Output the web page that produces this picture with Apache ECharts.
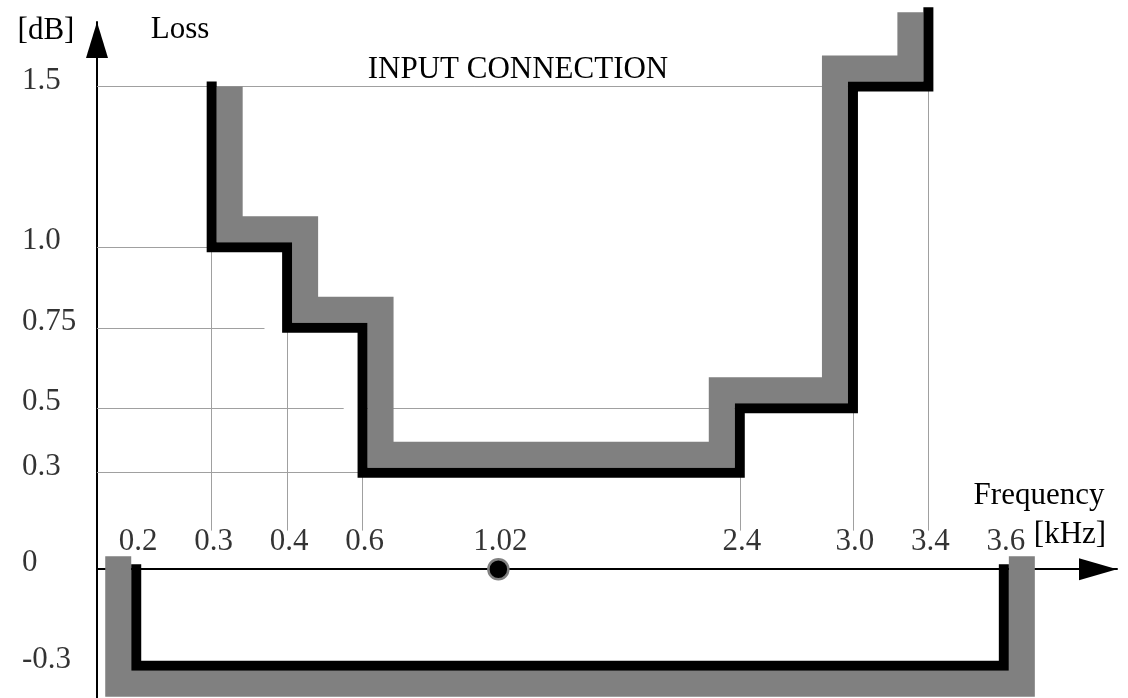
<!DOCTYPE html>
<html><head><meta charset="utf-8">
<script src="https://cdn.jsdelivr.net/npm/echarts@6/dist/echarts.min.js"></script>
<style>html,body{margin:0;padding:0;background:#fff}#chart{width:1128px;height:698px}</style>
</head><body><div id="chart"></div>
<script>
// ---- tick labels / axis definition (schematic, not-to-scale frequency axis) ----
const xTickLabels = ['0.2','0.3','0.4','0.6','1.02','2.4','3.0','3.4','3.6'];
const xTickFreq   = [0.2, 0.3, 0.4, 0.6, 1.02, 2.4, 3.0, 3.4, 3.6];      // kHz
const xTickSpacing = [0, 1, 2, 3, 4.8, 8, 9.5, 10.5, 11.5];             // schematic axis units
const yTickValues = [-0.3, 0, 0.3, 0.5, 0.75, 1.0, 1.5];
const yTickLabels = ['-0.3','0','0.3','0.5','0.75','1.0','1.5'];

// ---- upper loss mask (kHz, dB) ----
const upperMaskFreq = [0.3, 0.3, 0.4, 0.4, 0.6, 0.6, 2.4, 2.4, 3.0, 3.0, 3.4, 3.4];
const upperMaskLoss = [1.5, 1.0, 1.0, 0.75, 0.75, 0.3, 0.3, 0.5, 0.5, 1.5, 1.5, 1.73];
// ---- lower loss mask ----
const lowerMaskFreq = [0.2, 0.2, 3.6, 3.6];
const lowerMaskLoss = [0, -0.3, -0.3, 0];
// ---- reference point ----
const refFreq = [1.02];
const refLoss = [0];

// ---- thin leader lines ----
const hLeaderLoss = [1.5, 1.0, 0.75, 0.5, 0.3, 0.5];
const hLeaderFrom = [null, null, null, null, null, 0.6];   // null = from the loss axis
const hLeaderTo   = [3.0, 0.3, 0.37, 0.55, 0.6, 2.4];
const vLeaderFreq = [0.3, 0.4, 0.6, 2.4, 3.0, 3.4];
const vLeaderLoss = [1.0, 0.75, 0.3, 0.3, 0.5, 1.5];
const leaderBottom = 0.12;

const X_MIN = -0.52, X_MAX = 13.0;
const FONT = '"Liberation Serif", "Times New Roman", serif';
const FS = 31;

function fx(f) {
  const n = xTickFreq.length;
  for (let i = 0; i < n - 1; i++) {
    if (f <= xTickFreq[i + 1] || i === n - 2) {
      const t = (f - xTickFreq[i]) / (xTickFreq[i + 1] - xTickFreq[i]);
      return xTickSpacing[i] + t * (xTickSpacing[i + 1] - xTickSpacing[i]);
    }
  }
}
function offsetPolyline(pts, d) {
  const n = pts.length, nm = [];
  for (let i = 0; i < n - 1; i++) {
    const dx = pts[i + 1][0] - pts[i][0], dy = pts[i + 1][1] - pts[i][1];
    const L = Math.hypot(dx, dy) || 1;
    nm.push([dy / L, -dx / L]);
  }
  return pts.map((p, i) => {
    let nx, ny;
    if (i === 0) { nx = nm[0][0]; ny = nm[0][1]; }
    else if (i === n - 1) { nx = nm[n - 2][0]; ny = nm[n - 2][1]; }
    else {
      const a = nm[i - 1], b = nm[i];
      const k = 1 / (1 + a[0] * b[0] + a[1] * b[1]);
      nx = (a[0] + b[0]) * k; ny = (a[1] + b[1]) * k;
    }
    return [p[0] + d * nx, p[1] + d * ny];
  });
}

const masks = [
  { freq: upperMaskFreq, loss: upperMaskLoss, side: 1, cap: 'butt' },
  { freq: lowerMaskFreq, loss: lowerMaskLoss, side: -1, cap: 'square' }
];

const leaderData = [];
hLeaderLoss.forEach((v, i) => {
  const x1 = hLeaderFrom[i] == null ? X_MIN : fx(hLeaderFrom[i]);
  leaderData.push({ coords: [[x1, v], [fx(hLeaderTo[i]), v]] });
});
vLeaderFreq.forEach((f, i) => {
  leaderData.push({ coords: [[fx(f), vLeaderLoss[i]], [fx(f), leaderBottom]] });
});

const chart = echarts.init(document.getElementById('chart'), null, { renderer: 'canvas' });
const txt = (x, y, text) => ({
  type: 'text', x: x, y: y, z: 10,
  style: { text: text, font: FS + 'px ' + FONT, fill: '#000', align: 'center', verticalAlign: 'middle' }
});
const labelText = { color: '#000', fontFamily: FONT, fontSize: FS };

chart.setOption({
  animation: false,
  backgroundColor: '#fff',
  grid: { left: 97, top: 22, width: 1020, height: 677, containLabel: false },
  xAxis: {
    type: 'value', min: X_MIN, max: X_MAX,
    axisLine: { show: true, onZero: true, symbol: ['none', 'triangle'], symbolSize: [22, 38], symbolOffset: [0, -19],
      lineStyle: { color: '#000', width: 2 } },
    axisTick: { show: false }, splitLine: { show: false }, axisLabel: { show: false }
  },
  yAxis: {
    type: 'value', min: -0.4, max: 1.7,
    axisLine: { show: true, onZero: false, symbol: ['none', 'triangle'], symbolSize: [22, 36], symbolOffset: [0, -18],
      lineStyle: { color: '#000', width: 2 } },
    axisTick: { show: false }, splitLine: { show: false }, axisLabel: { show: false }
  },
  graphic: [
    txt(46, 31, '[dB]'),
    txt(180, 30, 'Loss'),
    txt(518, 70, 'INPUT CONNECTION'),
    txt(1039, 496, 'Frequency'),
    txt(1070, 535, '[kHz]')
  ],
  series: [
    {
      type: 'lines', coordinateSystem: 'cartesian2d', silent: true, z: 1,
      lineStyle: { color: '#a0a0a0', width: 1, opacity: 1 },
      data: leaderData
    },
    {
      type: 'custom', coordinateSystem: 'cartesian2d', silent: true, z: 2, clip: false,
      data: masks.map(m => [fx(m.freq[0]), m.loss[0]]),
      renderItem: (params, api) => {
        const m = masks[params.dataIndex];
        const pts = m.freq.map((f, i) => api.coord([fx(f), m.loss[i]]));
        return {
          type: 'polyline',
          shape: { points: offsetPolyline(pts, 18 * m.side) },
          style: { stroke: '#808080', lineWidth: 26, fill: null, lineCap: m.cap, lineJoin: 'miter' }
        };
      }
    },
    {
      type: 'line', name: 'upper', z: 3, clip: false, symbol: 'none', silent: true,
      lineStyle: { color: '#000', width: 10, cap: 'square', join: 'miter' },
      data: upperMaskFreq.map((f, i) => [fx(f), upperMaskLoss[i]])
    },
    {
      type: 'line', name: 'lower', z: 3, clip: false, symbol: 'none', silent: true,
      lineStyle: { color: '#000', width: 10, cap: 'square', join: 'miter' },
      data: lowerMaskFreq.map((f, i) => [fx(f), lowerMaskLoss[i]])
    },
    {
      type: 'scatter', z: 5, silent: true, symbol: 'circle', symbolSize: 20,
      itemStyle: { color: '#000', borderColor: '#808080', borderWidth: 2.5, opacity: 1 },
      data: refFreq.map((f, i) => [fx(f), refLoss[i]])
    },
    {
      // frequency tick labels, placed above the frequency axis
      type: 'scatter', z: 6, silent: true, clip: false, symbolSize: 1,
      itemStyle: { color: 'rgba(0,0,0,0)' },
      label: Object.assign({ show: true, position: 'inside', align: 'center', verticalAlign: 'middle', offset: [2, -27] }, labelText),
      data: xTickFreq.map((f, i) => ({ value: [fx(f), 0], label: { formatter: xTickLabels[i] } }))
    },
    {
      // loss tick labels, left of the loss axis
      type: 'scatter', z: 6, silent: true, clip: false, symbolSize: 1,
      itemStyle: { color: 'rgba(0,0,0,0)' },
      label: Object.assign({ show: true, position: 'inside', align: 'left', verticalAlign: 'middle', offset: [-75, -6] }, labelText),
      data: yTickValues.map((v, i) => ({ value: [X_MIN, v], label: { formatter: yTickLabels[i] } }))
    }
  ]
});
</script>
</body></html>
